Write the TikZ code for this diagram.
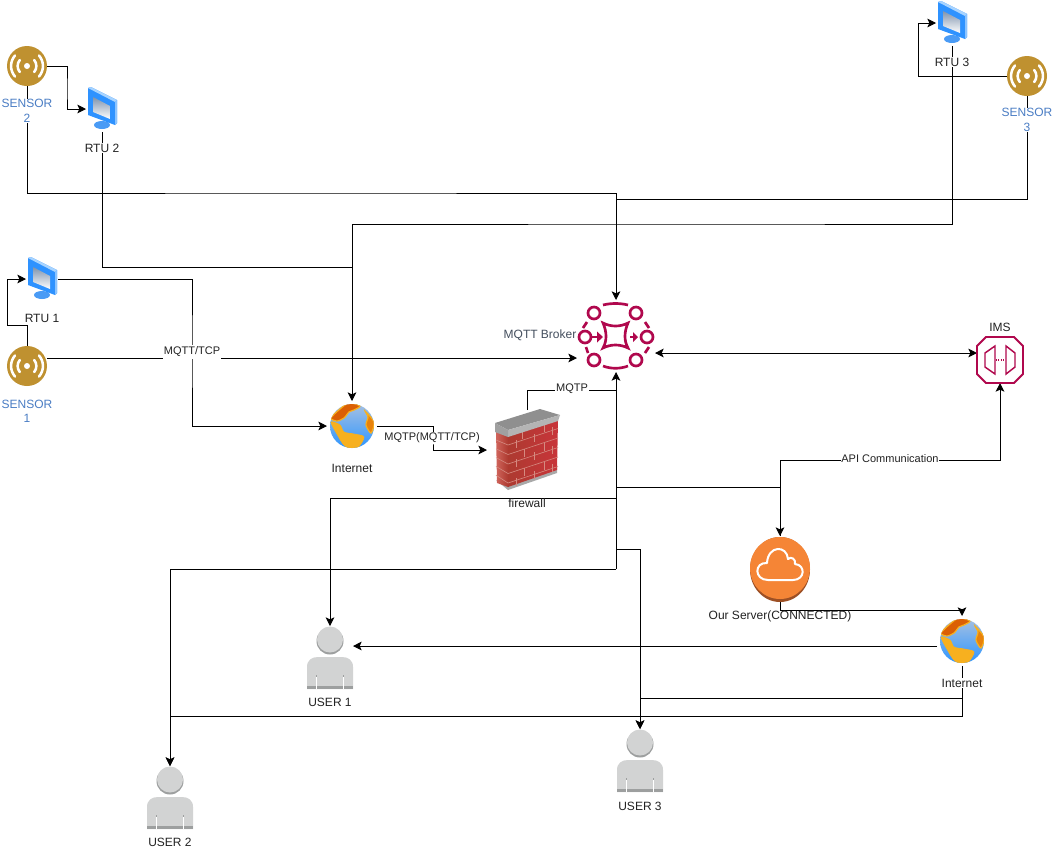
\documentclass[tikz,border=0pt]{standalone}
\usepackage{fontspec}
\setmainfont{Liberation Sans}
\usetikzlibrary{arrows.meta}
\definecolor{gold}{HTML}{BF9130}
\definecolor{magent}{HTML}{B0084D}
\definecolor{sensblue}{HTML}{4A7DC4}
\definecolor{brokertxt}{HTML}{444F5E}
\definecolor{txt}{HTML}{222222}
\definecolor{orng}{HTML}{F58536}
\definecolor{orngd}{HTML}{9D5025}
\definecolor{usr}{HTML}{D2D3D3}
\definecolor{usrd}{HTML}{9D9F9F}
\definecolor{monlight}{HTML}{A8D4FF}
\definecolor{monframe}{HTML}{2E92FF}
\definecolor{monstand}{HTML}{4A9BF5}
\definecolor{monside}{HTML}{8CC4FF}
\definecolor{monscreen}{HTML}{7F93AD}
\definecolor{gtop}{HTML}{A4C0E2}
\definecolor{gbot}{HTML}{2E95FF}
\definecolor{gdark}{HTML}{DB5F05}
\definecolor{gyel}{HTML}{F7B01F}
\definecolor{gor}{HTML}{E8820C}
\definecolor{fwbase}{HTML}{A9A9A9}
\definecolor{fwl}{HTML}{D0655C}
\definecolor{fwr}{HTML}{AD3A30}
\definecolor{fwl2}{HTML}{C8353A}
\definecolor{fwm}{HTML}{D58A80}
\definecolor{fwtop}{HTML}{8F8F8F}
\definecolor{fwside}{HTML}{B4B4B4}
\definecolor{fwside2}{HTML}{A0A0A0}
\tikzset{
  box/.style 2 args={minimum width=#1*0.75pt,minimum height=#2*0.75pt,inner sep=0pt,outer sep=0pt},
  conn/.style={draw=black,line width=0.75pt},
  arr/.style={conn,-{Stealth[length=6.5pt,width=6.5pt,inset=1.5pt]}},
  arrs/.style={conn,{Stealth[length=6.5pt,width=6.5pt,inset=1.5pt]}-{Stealth[length=6.5pt,width=6.5pt,inset=1.5pt]}},
  lab/.style={font=\fontsize{9pt}{10.8pt}\selectfont,text=txt,align=center,inner sep=0.5pt},
  labw/.style={lab,fill=white},
  senslab/.style={lab,text=sensblue,fill=white},
  edgelab/.style={font=\fontsize{8.25pt}{9.5pt}\selectfont,text=txt,fill=white,inner sep=0.6pt},
  sensoricon/.pic={
    \fill[gold] (0,0) circle (20);
    \fill[white] (0,0) circle (3);
    \draw[white,line width=1.9pt,line cap=round] (7.2,-6) arc[start angle=-39.8,end angle=39.8,radius=9.4];
    \draw[white,line width=1.9pt,line cap=round] (-7.2,-6) arc[start angle=219.8,end angle=140.2,radius=9.4];
    \draw[white,line width=1.9pt,line cap=round] (12,-10.5) arc[start angle=-41.2,end angle=41.2,radius=15.95];
    \draw[white,line width=1.9pt,line cap=round] (-12,-10.5) arc[start angle=221.2,end angle=138.8,radius=15.95];
  },
  monitoricon/.pic={
    \fill[monstand] (0,16) ellipse (8 and 4);
    \fill[monframe] (-14,-21) -- (-11,-22) -- (15,-9) -- (15,14) -- (13,16) -- (-14,6) -- cycle;
    \fill[monlight] (-14,-21) -- (-11,-22) -- (15,-9) -- (13,-7) -- cycle;
    \fill[monside] (13,-7) -- (15,-9) -- (15,14) -- (13,16) -- cycle;
    \shade[top color=monscreen,bottom color=white] (-9,-12) -- (8,-3) -- (8,10) -- (-9,3) -- cycle;
  },
  globeicon/.pic={
    \begin{scope}
      \clip (0,0) circle (22);
      \shade[top color=gtop,bottom color=gbot] (-22,-22) rectangle (22,22);
      \filldraw[fill=gdark,draw=gyel,line width=0.9pt] plot[smooth cycle] coordinates {(-21,-8) (-12,-17) (-3,-23) (8,-20) (2,-16) (-3,-14) (-8,-8) (-15,-5)};
      \filldraw[fill=gyel,draw=gyel,line width=0.5pt] plot[smooth cycle] coordinates {(-21,-4) (-12,-1) (-8,6) (2,8) (12,11) (5,22) (-7,20) (-15,8)};
      \filldraw[fill=gor,draw=gyel,line width=0.9pt] plot[smooth cycle] coordinates {(13,-15) (22,-4) (19,7) (14,-1) (16,-9)};
    \end{scope}
  },
  usericon/.pic={
    \fill[usrd] (0,-17) circle (13.5);
    \fill[usr] (0,-18.5) circle (13);
    \fill[usr] (-23,31) -- (-23,9) .. controls (-23,2) and (-18,-1) .. (-12,-1) -- (12,-1) .. controls (18,-1) and (23,2) .. (23,9) -- (23,31) -- cycle;
    \fill[usrd] (-23,28) rectangle (23,31);
    \fill[usrd] (-14,17) rectangle (-12.6,19);
    \fill[usrd] (13,17) rectangle (14.4,19);
    \fill[white] (-14,19) rectangle (-12.6,31);
    \fill[white] (13,19) rectangle (14.4,31);
  },
  firewallicon/.pic={
    \fill[fwbase] (-31,30) -- (-19,40) -- (30,23) -- (30,15) -- (-19,34) -- cycle;
    \shade[left color=fwl,right color=fwr] (-31,-20) -- (-19,-14) -- (-19,37) -- (-30,33) -- cycle;
    \shade[left color=fwr,right color=fwl2] (-19,-14) -- (31,-30) -- (30,20) -- (-19,37) -- cycle;
    \foreach \k in {0,1,2,3,4} {
      \draw[fwm,line width=0.45pt] (-19,-5+\k*9.5) -- (31,-21.5+\k*9.5);
      \draw[fwm,line width=0.45pt] (-31,-10+\k*8.8) -- (-19,-5+\k*9.5);
    }
    \foreach \x/\y in {-5/-11,17/-18,-11/-2,7/-8,25/-15,-3/7,17/1,-11/17,7/10,25/4,-3/26,17/20,-11/36,7/29,25/22}{
      \draw[fwm,line width=0.45pt] (\x,\y) -- (\x,\y-8);
    }
    \fill[fwtop] (-32,-27) -- (13,-41) -- (33,-35) -- (-19,-20) -- cycle;
    \fill[fwside] (-19,-20) -- (33,-35) -- (31,-29) -- (-19,-13) -- cycle;
    \fill[fwside2] (-32,-27) -- (-19,-20) -- (-19,-13) -- (-32,-18) -- cycle;
  },
  brokericon/.pic={
    \foreach \p in {(-22,-23),(20,-23),(-31,1),(31,1),(-22,24),(20,24)}
      \draw[magent,line width=2pt] \p circle (6);
    \begin{scope}[magent,line width=2pt]
      \draw (-13,-31) .. controls (-5,-33) and (4,-33) .. (12,-31);
      \draw (-13,30) .. controls (-5,33) and (4,33) .. (12,30);
      \draw (-29,-14) -- (-33,-8);
      \draw (-30,11) -- (-28,17);
      \draw (29,-14) -- (33,-8);
      \draw (29,17) -- (33,11);
      \draw[line join=miter] (-13,-13) .. controls (-5,-9) and (4,-9) .. (12,-13) .. controls (8,-4) and (8,5) .. (12,12) .. controls (4,8) and (-5,8) .. (-13,12) .. controls (-9,5) and (-9,-4) .. (-13,-13) -- cycle;
      \draw (-24,1) -- (-15,1);
      \fill (-13,1) -- (-19,-4.5) -- (-19,6.5) -- cycle;
      \draw (14,1) -- (19,1);
      \fill (22,1) -- (17,-4) -- (17,6) -- cycle;
    \end{scope}
  },
  cloudicon/.pic={
    \fill[orngd] (0,0.5) ellipse (30 and 32.5);
    \fill[orng] (0,-1) ellipse (30 and 31);
    \draw[white,line width=1.5pt,line join=round]
      (-12,11) .. controls (-26,11) and (-26,-7) .. (-13,-6)
      .. controls (-12,-24) and (7,-24) .. (8,-10)
      .. controls (11,-13) and (16,-10) .. (15,-5)
      .. controls (26,-4) and (25,11) .. (13,11) -- cycle;
  },
}
\begin{document}
\begin{tikzpicture}[x=0.75pt,y=-0.75pt]
\path[use as bounding box,fill=white] (0,0) rectangle (1053,851);

% icon holders
\node[box={40}{40}] (s1) at (27,366) {};
\node[box={40}{40}] (s2) at (27,66) {};
\node[box={40}{40}] (s3) at (1027,76) {};
\node[box={32}{46}] (rtu1) at (42,279) {};
\node[box={32}{46}] (rtu2) at (102,109) {};
\node[box={32}{46}] (rtu3) at (952,23) {};
\node[box={78}{72}] (broker) at (616,336) {};
\node[box={46}{46}] (ims) at (1000,360) {};
\node[box={50}{50}] (in1) at (352,426) {};
\node[box={50}{50}] (in2) at (962,641) {};
\node[box={80}{80}] (fw) at (527,450) {};
\node[box={60}{66}] (cl) at (780,569) {};
\node[box={46}{64}] (u1) at (330,658) {};
\node[box={46}{64}] (u2) at (170,798) {};
\node[box={46}{64}] (u3) at (640,761) {};

% routing points
\coordinate (a1) at (67,90);
\coordinate (a2) at (7,325);
\coordinate (a3) at (918,50);
\coordinate (a4) at (300,193);
\coordinate (a5) at (616,199);
\coordinate (a6) at (700,224);
\coordinate (a7) at (352,267);
\coordinate (a8) at (192,350);
\coordinate (h1) at (500,358);
\coordinate (h2) at (800,353);
\coordinate (h3) at (600,646);
\coordinate (a9) at (433,440);
\coordinate (a10) at (560,390);
\coordinate (t1) at (616,487);
\coordinate (t2) at (616,498);
\coordinate (t3) at (616,549);
\coordinate (t4) at (616,569);
\coordinate (a11) at (890,460);
\coordinate (a12) at (870,610);
\coordinate (a13) at (640,698);
\coordinate (a14) at (500,716);

% connectors
\draw[arr] (s2.east) -| (a1) |- (rtu2.west);
\draw[arr] (s2.south) |- (a4) -| (broker.north);
\draw[conn] (s3.south) |- (a5);
\draw[arr] (s3.west) -| (a3) |- (rtu3.west);
\draw[arr] (rtu3.south) |- (a6) -| (in1.north);
\draw[conn] (rtu2.south) |- (a7);
\draw[arr] (s1.north) |- (a2) |- (rtu1.west);
\draw[arr] (rtu1.east) -| (a8) |- (in1.west);
\draw[conn] (s1.east |- h1) -- (h1);
\draw[arr] (h1) -- (broker.west |- h1);
\draw[arr] (in1.east) -| (a9) |- (fw.west);
\draw[conn] (fw.north) |- (a10) -- (a10 -| broker.south);
\draw[arr] (t4) -- (broker.south);
\draw[arrs] (broker.east |- h2) -- (ims.west |- h2);
\draw[arr] (t1) -| (cl.north);
\draw[arr] (cl.north) |- (a11) -| (ims.south);
\draw[arr] (t2) -| (u1.north);
\draw[arr] (t3) -| (u3.north);
\draw[arr] (t4) -| (u2.north);
\draw[arr] (cl.south) |- (a12) -| (in2.north);
\draw[arr] (in2.west |- h3) -- (u1.east |- h3);
\draw[arr] (in2.south) |- (a13) -- (u3.north);
\draw[arr] (in2.south) |- (a14) -| (u2.north);

% icons
\pic at (s1) {sensoricon};
\pic at (s2) {sensoricon};
\pic at (s3) {sensoricon};
\pic at (rtu1) {monitoricon};
\pic at (rtu2) {monitoricon};
\pic at (rtu3) {monitoricon};
\pic at (broker) {brokericon};
\pic at (in1) {globeicon};
\pic at (in2) {globeicon};
\pic at (fw) {firewallicon};
\pic at (cl) {cloudicon};
\pic at (u1) {usericon};
\pic at (u2) {usericon};
\pic at (u3) {usericon};
\begin{scope}[shift={(ims)}]
  \draw[magent,line width=1.4pt] (-14,-23) -- (14,-23) -- (23,-14) -- (23,14) -- (14,23) -- (-14,23) -- (-23,14) -- (-23,-14) -- cycle;
  \draw[magent,line width=1.1pt] (-5,-14) -- (-15,-7) -- (-15,7) -- (-5,14) -- cycle;
  \draw[magent,line width=1.1pt] (6,-14) -- (15,-7) -- (15,7) -- (6,14) -- cycle;
  \draw[magent,line width=0.8pt,densely dotted] (-4,0) -- (5,0);
\end{scope}

% labels
\node[senslab] (ls1) at (27,411) {SENSOR\\1};
\node[senslab] (ls2) at (27,111) {SENSOR\\2};
\node[senslab] (ls3) at (1027,120) {SENSOR\\3};
\node[labw] (lr1) at (42,318) {RTU 1};
\node[labw] (lr2) at (102,148) {RTU 2};
\node[labw] (lr3) at (952,62) {RTU 3};
\node[lab,text=brokertxt] (lb) at (540,335) {MQTT Broker};
\node[lab] (li) at (1000,327) {IMS};
\node[lab] (ln1) at (352,468) {Internet};
\node[labw] (ln2) at (962,683) {Internet};
\node[lab] (lf) at (527,503) {firewall};
\node[lab] (lc) at (780,616) {Our Server(CONNECTED)};
\node[lab] (lu1) at (330,702) {USER 1};
\node[lab] (lu2) at (170,842) {USER 2};
\node[lab] (lu3) at (640,806) {USER 3};
\node[edgelab,minimum height=10.5pt] (e1) at (192,352) {MQTT/TCP};
\node[edgelab] (e2) at (432,438) {MQTP(MQTT/TCP)};
\node[edgelab] (e3) at (572,389) {MQTP};
\node[edgelab] (e4) at (890,459) {API Communication};
\end{tikzpicture}
\end{document}
